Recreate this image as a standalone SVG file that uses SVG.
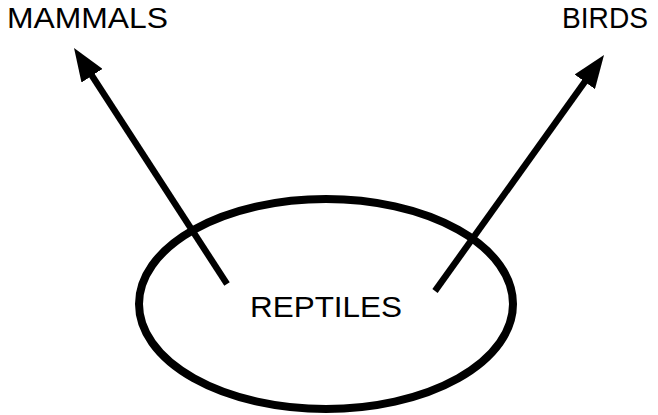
<svg xmlns="http://www.w3.org/2000/svg" width="658" height="415" viewBox="0 0 658 415">
<style>
.lbl{font-family:"Liberation Sans",Arial,sans-serif;font-size:29px;fill:#000}
.conn{stroke:#000;stroke-width:6.5;fill:none;marker-end:url(#ah)}
</style>
<defs>
<marker id="ah" markerUnits="userSpaceOnUse" markerWidth="33" markerHeight="25" viewBox="0 0 33 25" refX="11" refY="12.5" orient="auto">
<path d="M0,0 L33,12.5 L0,25 z" fill="#000"/>
</marker>
</defs>
<rect width="658" height="415" fill="#fff"/>
<g id="reptiles">
<ellipse cx="326" cy="304" rx="187" ry="105" fill="none" stroke="#000" stroke-width="8"/>
<text class="lbl" x="250" y="317" textLength="152" lengthAdjust="spacingAndGlyphs">REPTILES</text>
</g>
<g id="mammals">
<text class="lbl" x="7" y="28" textLength="161" lengthAdjust="spacingAndGlyphs">MAMMALS</text>
</g>
<g id="birds">
<text class="lbl" x="562" y="28" textLength="86" lengthAdjust="spacingAndGlyphs">BIRDS</text>
</g>
<g id="connectors">
<line class="conn" x1="227" y1="284" x2="86" y2="66.5"/>
<line class="conn" x1="435" y1="291" x2="591.2" y2="72.9"/>
</g>
</svg>
